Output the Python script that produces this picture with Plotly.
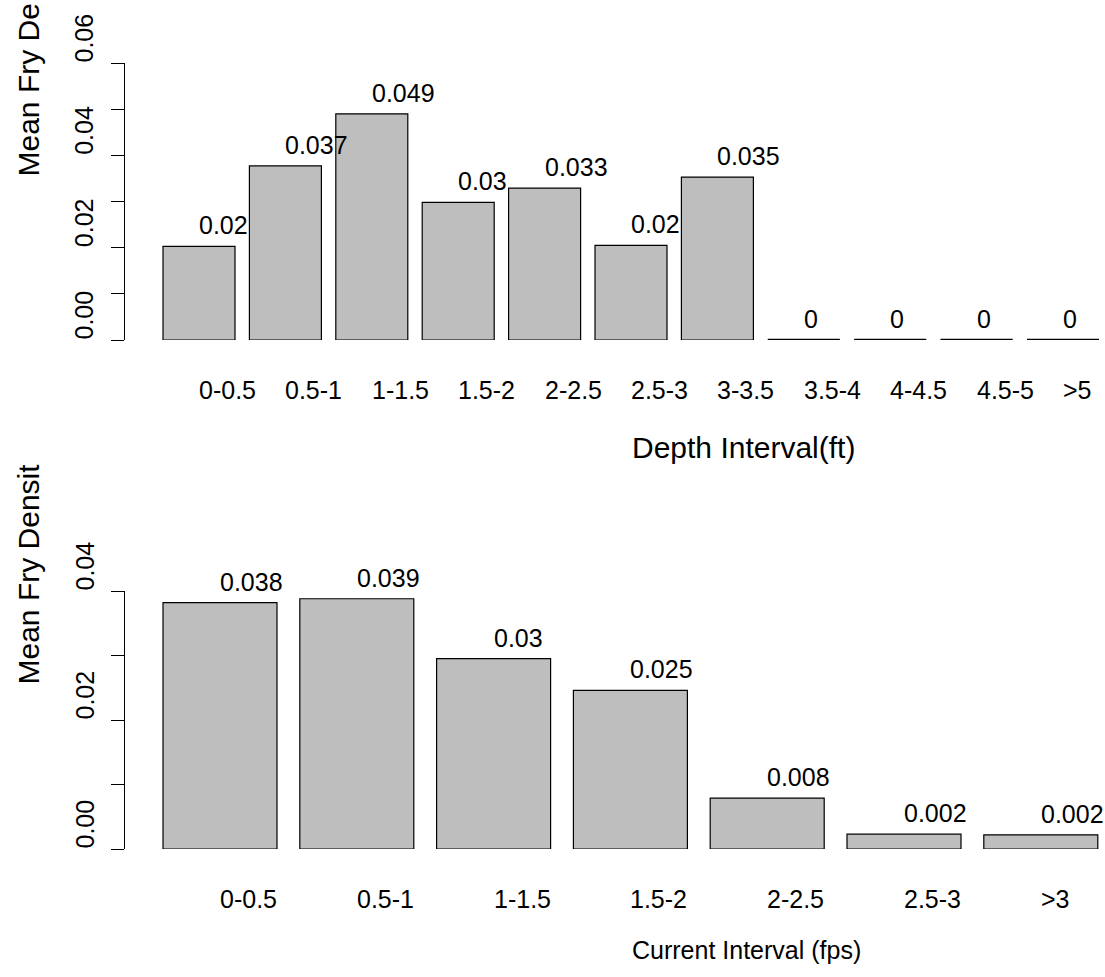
import plotly.graph_objects as go

# ---- data ----
depth_cats = ["0-0.5", "0.5-1", "1-1.5", "1.5-2", "2-2.5", "2.5-3", "3-3.5",
              "3.5-4", "4-4.5", "4.5-5", ">5"]
depth_vals = [0.0203, 0.0377, 0.049, 0.0298, 0.0329, 0.0205, 0.0353, 0, 0, 0, 0]
depth_labels = ["0.02", "0.037", "0.049", "0.03", "0.033", "0.02", "0.035",
                "0", "0", "0", "0"]

curr_cats = ["0-0.5", "0.5-1", "1-1.5", "1.5-2", "2-2.5", "2.5-3", ">3"]
curr_vals = [0.0382, 0.0388, 0.0295, 0.0246, 0.0079, 0.0023, 0.0022]
curr_labels = ["0.038", "0.039", "0.03", "0.025", "0.008", "0.002", "0.002"]

depth_yticks = [0, 0.01, 0.02, 0.03, 0.04, 0.05, 0.06]
depth_ylabels = {0: "0.00", 0.02: "0.02", 0.04: "0.04", 0.06: "0.06"}
curr_yticks = [0, 0.01, 0.02, 0.03, 0.04]
curr_ylabels = {0: "0.00", 0.02: "0.02", 0.04: "0.04"}

# ---- layout geometry (pixels) ----
W, H = 1105, 977
FONT = "Liberation Sans, Arial, sans-serif"
FS = 25      # axis / value text
FS_LAB = 30  # axis titles
BAR_FILL = "#BEBEBE"


def fy(px):
    return 1 - px / H


def fx(px):
    return px / W


def tfont(size=FS):
    return dict(family=FONT, size=size, color="black")


fig = go.Figure()

fig.add_trace(go.Bar(x=depth_cats, y=depth_vals, xaxis="x", yaxis="y",
                     marker=dict(color=BAR_FILL, line=dict(color="black", width=1.2)),
                     hoverinfo="skip"))
fig.add_trace(go.Bar(x=curr_cats, y=curr_vals, xaxis="x2", yaxis="y2",
                     marker=dict(color=BAR_FILL, line=dict(color="black", width=1.2)),
                     hoverinfo="skip"))

half = 0.5 / 1.2
shapes = []
for i, v in enumerate(depth_vals):
    if v == 0:
        shapes.append(dict(type="line", xref="x", yref="y", x0=i - half, x1=i + half,
                           y0=0, y1=0, line=dict(color="black", width=2.5)))
for i, v in enumerate(curr_vals):
    if v == 0:
        shapes.append(dict(type="line", xref="x2", yref="y2", x0=i - half, x1=i + half,
                           y0=0, y1=0, line=dict(color="black", width=2.5)))

ann = []
# value labels and category labels (left-aligned at the bar centre)
for xr, yr, cats, vals, labs in (("x", "y", depth_cats, depth_vals, depth_labels),
                                 ("x2", "y2", curr_cats, curr_vals, curr_labels)):
    for c, v, t in zip(cats, vals, labs):
        ann.append(dict(x=c, y=v, xref=xr, yref=yr, text=t, showarrow=False,
                        xanchor="left", yanchor="middle", yshift=21, xshift=-2,
                        font=tfont()))
        ann.append(dict(x=c, y=0, xref=xr, yref=yr, text=c, showarrow=False,
                        xanchor="left", yanchor="middle", yshift=-50, xshift=-2,
                        font=tfont()))

# y tick labels (starting at the tick, reading upward)
for yr, labs in (("y", depth_ylabels), ("y2", curr_ylabels)):
    for v, t in labs.items():
        ann.append(dict(x=fx(84), y=v, xref="paper", yref=yr, text=t, showarrow=False,
                        textangle=-90, xanchor="center", yanchor="bottom", yshift=-2,
                        font=tfont()))

# axis titles
ann.append(dict(x=fx(632), y=fy(448), xref="paper", yref="paper", text="Depth Interval(ft)",
                showarrow=False, xanchor="left", yanchor="middle", xshift=-2,
                font=tfont(FS_LAB)))
ann.append(dict(x=fx(632), y=fy(950), xref="paper", yref="paper", text="Current Interval (fps)",
                showarrow=False, xanchor="left", yanchor="middle", xshift=-2,
                font=tfont(25)))
ann.append(dict(x=fx(28), y=fy(177), xref="paper", yref="paper", text="Mean Fry De",
                showarrow=False, textangle=-90, xanchor="center", yanchor="bottom",
                yshift=-2, font=tfont(FS_LAB)))
ann.append(dict(x=fx(28), y=fy(685), xref="paper", yref="paper", text="Mean Fry Densit",
                showarrow=False, textangle=-90, xanchor="center", yanchor="bottom",
                yshift=-2, font=tfont(FS_LAB)))

# x axes: category positions (pitch px, centre of first category px)
top_c0, top_pitch = 199.0, 86.4
bot_c0, bot_pitch = 220.0, 136.8
x_left = 125

common_x = dict(type="category", showline=False, showgrid=False, zeroline=False,
                ticks="", showticklabels=False, domain=[fx(x_left), 1])
common_y = dict(showline=True, linecolor="black", linewidth=1.2, ticks="outside",
                ticklen=13, tickwidth=1.2, tickcolor="black", showticklabels=False,
                showgrid=False, zeroline=False)

fig.update_layout(
    width=W, height=H,
    margin=dict(l=0, r=0, t=0, b=0),
    paper_bgcolor="white", plot_bgcolor="white",
    showlegend=False,
    bargap=1 - 1 / 1.2,
    xaxis=dict(common_x, anchor="y",
               range=[(x_left - top_c0) / top_pitch, (W - top_c0) / top_pitch]),
    yaxis=dict(common_y, anchor="x", range=[0, 0.06], tickvals=depth_yticks,
               domain=[fy(340), fy(63)]),
    xaxis2=dict(common_x, anchor="y2",
                range=[(x_left - bot_c0) / bot_pitch, (W - bot_c0) / bot_pitch]),
    yaxis2=dict(common_y, anchor="x2", range=[0, 0.04], tickvals=curr_yticks,
                domain=[fy(849), fy(591)]),
    shapes=shapes,
    annotations=ann,
)

fig.write_html("out.html")
